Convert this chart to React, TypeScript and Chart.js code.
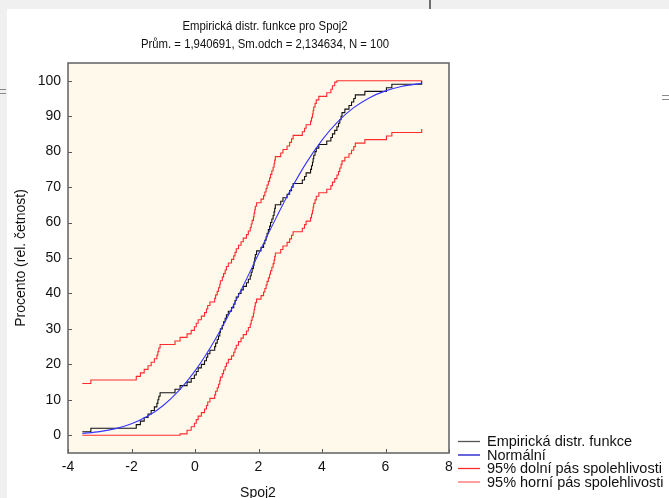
import React, { useEffect, useRef } from "react";
import { Chart, registerables } from "chart.js";

Chart.register(...registerables);

// ---- Data ----
const titleText = "Empirická distr. funkce pro Spoj2";
const subtitleText = "Prům. = 1,940691, Sm.odch = 2,134634, N = 100";
const xAxisTitle = "Spoj2";
const yAxisTitle = "Procento (rel. četnost)";

const xTicks = [-4, -2, 0, 2, 4, 6, 8];
const yTicks = [0, 10, 20, 30, 40, 50, 60, 70, 80, 90, 100];

// sorted sample values (x positions of the ECDF steps)
const sampleX = [
  -3.55, -3.28, -1.85, -1.72, -1.6, -1.48, -1.38, -1.28, -1.2, -1.17,
  -1.14, -1.1, -0.63, -0.47, -0.25, -0.12, -0.02, 0.04, 0.1, 0.2,
  0.3, 0.36, 0.4, 0.47, 0.62, 0.65, 0.7, 0.74, 0.78, 0.8,
  0.86, 0.9, 0.95, 0.99, 1.05, 1.15, 1.22, 1.26, 1.3, 1.37,
  1.45, 1.52, 1.62, 1.68, 1.74, 1.77, 1.8, 1.84, 1.86, 1.88,
  1.9, 1.94, 2.08, 2.16, 2.2, 2.24, 2.27, 2.31, 2.35, 2.38,
  2.42, 2.46, 2.49, 2.51, 2.53, 2.7, 2.77, 2.9, 2.98, 3.04,
  3.09, 3.38, 3.45, 3.5, 3.64, 3.67, 3.7, 3.72, 3.74, 3.78,
  3.82, 3.9, 4.15, 4.28, 4.33, 4.4, 4.47, 4.52, 4.56, 4.6,
  4.63, 4.72, 4.85, 4.93, 5.0, 5.05, 5.35, 6.03, 6.2, 7.14,
];

// empirical distribution function (percent)
const ecdfPct = [
  1, 2, 3, 4, 5, 6, 7, 8, 9, 10,
  11, 12, 13, 14, 15, 16, 17, 18, 19, 20,
  21, 22, 23, 24, 25, 26, 27, 28, 29, 30,
  31, 32, 33, 34, 35, 36, 37, 38, 39, 40,
  41, 42, 43, 44, 45, 46, 47, 48, 49, 50,
  51, 52, 53, 54, 55, 56, 57, 58, 59, 60,
  61, 62, 63, 64, 65, 66, 67, 68, 69, 70,
  71, 72, 73, 74, 75, 76, 77, 78, 79, 80,
  81, 82, 83, 84, 85, 86, 87, 88, 89, 90,
  91, 92, 93, 94, 95, 96, 97, 98, 99, 100,
];

// 95% lower confidence band (percent)
const lowerPct = [
  0, 0, 0, 0, 0, 0, 0, 0, 0, 0,
  0, 0, 0, 0.4, 1.4, 2.4, 3.4, 4.4, 5.4, 6.4,
  7.4, 8.4, 9.4, 10.4, 11.4, 12.4, 13.4, 14.4, 15.4, 16.4,
  17.4, 18.4, 19.4, 20.4, 21.4, 22.4, 23.4, 24.4, 25.4, 26.4,
  27.4, 28.4, 29.4, 30.4, 31.4, 32.4, 33.4, 34.4, 35.4, 36.4,
  37.4, 38.4, 39.4, 40.4, 41.4, 42.4, 43.4, 44.4, 45.4, 46.4,
  47.4, 48.4, 49.4, 50.4, 51.4, 52.4, 53.4, 54.4, 55.4, 56.4,
  57.4, 58.4, 59.4, 60.4, 61.4, 62.4, 63.4, 64.4, 65.4, 66.4,
  67.4, 68.4, 69.4, 70.4, 71.4, 72.4, 73.4, 74.4, 75.4, 76.4,
  77.4, 78.4, 79.4, 80.4, 81.4, 82.4, 83.4, 84.4, 85.4, 86.4,
];

// 95% upper confidence band (percent)
const upperPct = [
  14.6, 15.6, 16.6, 17.6, 18.6, 19.6, 20.6, 21.6, 22.6, 23.6,
  24.6, 25.6, 26.6, 27.6, 28.6, 29.6, 30.6, 31.6, 32.6, 33.6,
  34.6, 35.6, 36.6, 37.6, 38.6, 39.6, 40.6, 41.6, 42.6, 43.6,
  44.6, 45.6, 46.6, 47.6, 48.6, 49.6, 50.6, 51.6, 52.6, 53.6,
  54.6, 55.6, 56.6, 57.6, 58.6, 59.6, 60.6, 61.6, 62.6, 63.6,
  64.6, 65.6, 66.6, 67.6, 68.6, 69.6, 70.6, 71.6, 72.6, 73.6,
  74.6, 75.6, 76.6, 77.6, 78.6, 79.6, 80.6, 81.6, 82.6, 83.6,
  84.6, 85.6, 86.6, 87.6, 88.6, 89.6, 90.6, 91.6, 92.6, 93.6,
  94.6, 95.6, 96.6, 97.6, 98.6, 99.6, 100, 100, 100, 100,
  100, 100, 100, 100, 100, 100, 100, 100, 100, 100,
];

// fitted normal curve (percent)
const normalX = [-3.55, -3, -2.5, -2, -1.5, -1, -0.5, 0, 0.5, 1, 1.5, 2, 2.5, 3, 3.5, 4, 4.5, 5, 5.5, 6, 6.5, 7, 7.14];
const normalPct = [0.51, 1.03, 1.88, 3.24, 5.35, 8.41, 12.64, 18.16, 24.98, 32.96, 41.82, 51.11, 60.33, 69.01, 76.75, 83.27, 88.47, 92.41, 95.23, 97.14, 98.37, 99.11, 99.26];

const legendItems = [
  { label: "Empirická distr. funkce", color: "#555555" },
  { label: "Normální", color: "#1515c8" },
  { label: "95% dolní pás spolehlivosti", color: "#ff2a2a" },
  { label: "95% horní pás spolehlivosti", color: "#ff6b6b" },
];

const FONT = '"Liberation Sans", Arial, sans-serif';

function pts(xs: number[], ys: number[]) {
  return xs.map((x, i) => ({ x, y: ys[i] }));
}

export default function App() {
  const ref = useRef<HTMLCanvasElement>(null);

  useEffect(() => {
    const canvas = ref.current;
    if (!canvas) return;

    const decor = {
      id: "decor",
      beforeDatasetsDraw(chart: any) {
        const { ctx, chartArea: a } = chart;
        ctx.save();
        ctx.fillStyle = "#FFF9EC";
        ctx.fillRect(a.left, a.top, a.right - a.left, a.bottom - a.top);
        ctx.restore();
      },
      afterDatasetsDraw(chart: any) {
        const { ctx, chartArea: a, scales } = chart;
        ctx.save();
        // inward tick marks
        ctx.strokeStyle = "#555";
        ctx.lineWidth = 1;
        ctx.beginPath();
        for (const v of yTicks) {
          const y = Math.round(scales.y.getPixelForValue(v)) + 0.5;
          ctx.moveTo(a.left, y);
          ctx.lineTo(a.left + 4, y);
        }
        for (const v of xTicks) {
          const x = Math.round(scales.x.getPixelForValue(v)) + 0.5;
          ctx.moveTo(x, a.bottom);
          ctx.lineTo(x, a.bottom - 4);
        }
        ctx.stroke();
        // frame
        ctx.strokeStyle = "#6a6a6a";
        ctx.lineWidth = 1.6;
        ctx.strokeRect(a.left, a.top, a.right - a.left, a.bottom - a.top);
        ctx.restore();
      },
      afterDraw(chart: any) {
        const { ctx } = chart;
        ctx.save();
        ctx.fillStyle = "#111";
        // titles (slightly condensed, like the original)
        ctx.textAlign = "center";
        ctx.textBaseline = "alphabetic";
        ctx.font = `13.5px ${FONT}`;
        ctx.save();
        ctx.translate(265, 29.5);
        ctx.scale(0.84, 1);
        ctx.fillText(titleText, 0, 0);
        ctx.restore();
        ctx.save();
        ctx.translate(265, 47.5);
        ctx.scale(0.84, 1);
        ctx.fillText(subtitleText, 0, 0);
        ctx.restore();
        // axis titles
        ctx.font = `14px ${FONT}`;
        ctx.fillText(xAxisTitle, 258, 497);
        ctx.save();
        ctx.translate(25, 258);
        ctx.rotate(-Math.PI / 2);
        ctx.fillText(yAxisTitle, 0, 0);
        ctx.restore();
        // legend
        ctx.textAlign = "left";
        ctx.font = `14.5px ${FONT}`;
        const rows = [441.5, 455, 468.5, 482];
        legendItems.forEach((it, i) => {
          const y = rows[i];
          ctx.strokeStyle = it.color;
          ctx.lineWidth = 1.3;
          ctx.beginPath();
          ctx.moveTo(458, y);
          ctx.lineTo(480, y);
          ctx.stroke();
          ctx.fillStyle = "#111";
          ctx.fillText(it.label, 487, y + 4.8);
        });
        ctx.restore();
      },
    };

    const chart = new Chart(canvas, {
      type: "line",
      data: {
        datasets: [
          {
            label: legendItems[3].label,
            data: pts(sampleX, upperPct),
            borderColor: "#ff2b2b",
            borderWidth: 1.1,
            stepped: true,
            pointRadius: 0,
            fill: false,
          },
          {
            label: legendItems[2].label,
            data: pts(sampleX, lowerPct),
            borderColor: "#ff2b2b",
            borderWidth: 1.1,
            stepped: true,
            pointRadius: 0,
            fill: false,
          },
          {
            label: legendItems[1].label,
            data: pts(normalX, normalPct),
            borderColor: "#3636ff",
            borderWidth: 1.1,
            cubicInterpolationMode: "monotone",
            pointRadius: 0,
            fill: false,
          },
          {
            label: legendItems[0].label,
            data: pts(sampleX, ecdfPct),
            borderColor: "#111111",
            borderWidth: 1.1,
            stepped: true,
            pointRadius: 0,
            fill: false,
          },
        ],
      },
      options: {
        animation: false,
        responsive: false,
        devicePixelRatio: 1,
        events: [],
        layout: { padding: { left: 0, top: 63, right: 220, bottom: 0 } },
        plugins: {
          legend: { display: false },
          title: { display: false },
          tooltip: { enabled: false },
        },
        scales: {
          x: {
            type: "linear",
            min: -4,
            max: 8,
            grid: { display: false, drawTicks: false },
            border: { display: false },
            afterBuildTicks: (s: any) => {
              s.ticks = xTicks.map((v) => ({ value: v }));
            },
            afterFit: (s: any) => {
              s.height = 45;
            },
            ticks: {
              padding: 6,
              maxRotation: 0,
              autoSkip: false,
              color: "#111",
              font: { family: FONT, size: 14 },
              callback: (v: any) => String(v),
            },
          },
          y: {
            type: "linear",
            min: -5,
            max: 105,
            grid: { display: false, drawTicks: false },
            border: { display: false },
            afterBuildTicks: (s: any) => {
              s.ticks = yTicks.map((v) => ({ value: v }));
            },
            afterFit: (s: any) => {
              s.width = 68;
            },
            ticks: {
              padding: 7,
              autoSkip: false,
              color: "#111",
              font: { family: FONT, size: 14 },
              callback: (v: any) => String(v),
            },
          },
        },
      },
      plugins: [decor],
    } as any);

    return () => chart.destroy();
  }, []);

  return (
    <div style={{ position: "fixed", left: 0, top: 0, width: 669, height: 498, background: "#f0f0f0", overflow: "hidden" }}>
      <div style={{ position: "absolute", left: 7, top: 9, right: 0, bottom: 0, background: "#ffffff" }} />
      <div style={{ position: "absolute", left: 429, top: 0, width: 2, height: 9, background: "#6e6e6e" }} />
      <div style={{ position: "absolute", left: 0, top: 89, width: 6, height: 1, background: "#8a8a8a" }} />
      <div style={{ position: "absolute", left: 0, top: 93, width: 6, height: 1, background: "#8a8a8a" }} />
      <div style={{ position: "absolute", left: 662, top: 95, width: 7, height: 1, background: "#8a8a8a" }} />
      <div style={{ position: "absolute", left: 662, top: 99, width: 7, height: 1, background: "#8a8a8a" }} />
      <canvas ref={ref} width={669} height={498} style={{ position: "absolute", left: 0, top: 0, display: "block" }} />
    </div>
  );
}
